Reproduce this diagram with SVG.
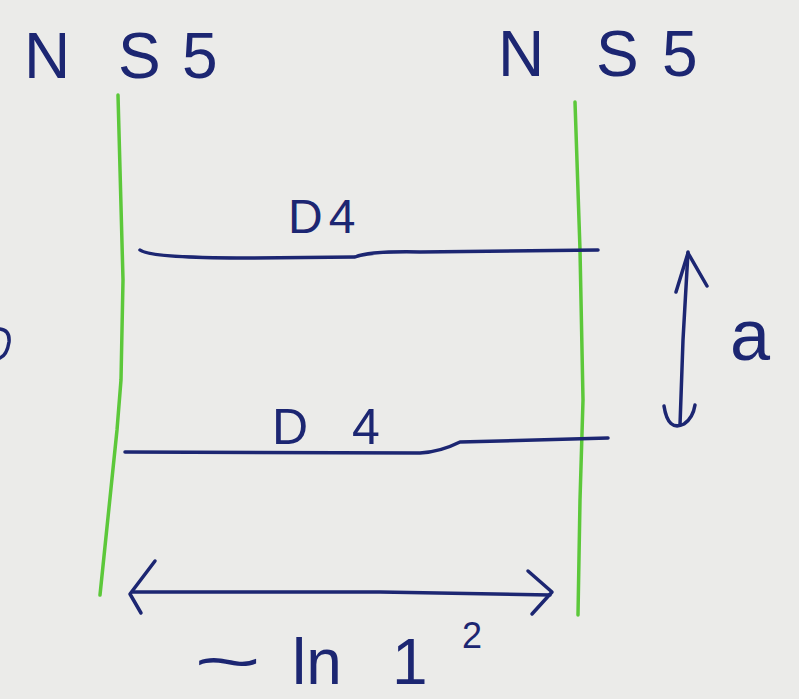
<svg xmlns="http://www.w3.org/2000/svg" width="799" height="699" viewBox="0 0 799 699">
<style>
.ink{fill:none;stroke:#1c2672;stroke-width:3.5;stroke-linecap:round;stroke-linejoin:round}
.brane{fill:none;stroke:#5cc83a;stroke-width:3.5;stroke-linecap:round}
.lbl{fill:#1c2672;font-family:"Liberation Sans","DejaVu Sans",sans-serif}
</style>
<rect width="799" height="699" fill="#ebebe9"/>
<g id="ns5-left">
<path class="brane" d="M118,95 L123,280 L121,380 L117,430 L100,595"/>
<text class="lbl" y="78" font-size="64"><tspan x="24">N</tspan><tspan x="118">S</tspan><tspan x="182">5</tspan></text>
</g>
<g id="ns5-right">
<path class="brane" d="M575,102 L580,250 L583,400 L580,500 L578,615"/>
<text class="lbl" y="76" font-size="64"><tspan x="498">N</tspan><tspan x="596">S</tspan><tspan x="662">5</tspan></text>
</g>
<g id="d4-top">
<path class="ink" d="M140,250 Q150,258 250,258 L355,257 Q370,251 420,252 L598,250"/>
<text class="lbl" x="288" y="233" font-size="48" letter-spacing="6">D4</text>
</g>
<g id="d4-bottom">
<path class="ink" d="M125,452 L420,453 Q440,452 460,442 L608,438"/>
<text class="lbl" y="444" font-size="50"><tspan x="272">D</tspan><tspan x="352">4</tspan></text>
</g>
<g id="connectors">
<path class="ink" d="M688,252 L683,340 L680,425"/>
<path class="ink" d="M676,292 L688,253 L707,286"/>
<path class="ink" d="M664,406 Q668,432 684,424 Q693,418 695,405"/>
<path class="ink" d="M133,592 L380,592 L550,595"/>
<path class="ink" d="M155,561 L130,594 L141,613"/>
<path class="ink" d="M528,571 L552,592 L532,614"/>
<path class="ink" d="M0,329 Q10,330 9,342 Q7,355 0,358"/>
</g>
<g id="label-a">
<text class="lbl" x="730" y="360" font-size="72">a</text>
</g>
<g id="label-ln">
<text class="lbl" font-size="64" transform="translate(194,684) scale(1.8,1)">~</text>
<text class="lbl" y="684" font-size="64"><tspan x="292">ln</tspan><tspan x="392">1</tspan></text>
<text class="lbl" x="462" y="648" font-size="36">2</text>
</g>
</svg>
